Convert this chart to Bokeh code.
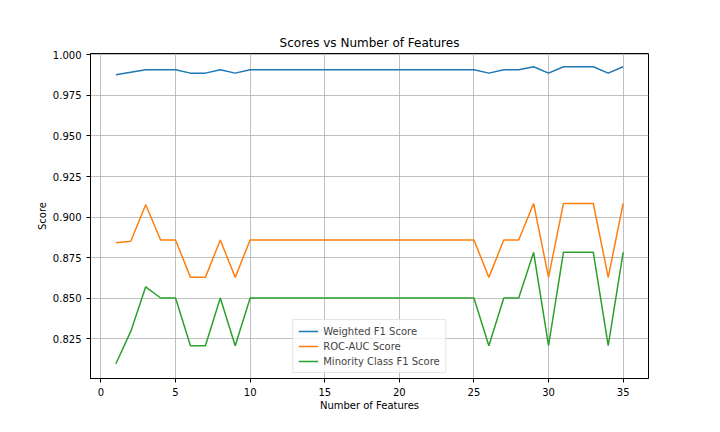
from bokeh.plotting import figure
from bokeh.models import FixedTicker, Range1d, Legend, LegendItem, NumeralTickFormatter
from bokeh.embed import file_html
from bokeh.resources import INLINE

n_features = list(range(1, 36))

weighted_f1 = [0.9877, 0.9893, 0.9908, 0.9908, 0.9908, 0.9887, 0.9887, 0.9908, 0.9887, 0.9908,
               0.9908, 0.9908, 0.9908, 0.9908, 0.9908, 0.9908, 0.9908, 0.9908, 0.9908, 0.9908,
               0.9908, 0.9908, 0.9908, 0.9908, 0.9908, 0.9887, 0.9908, 0.9908, 0.9926, 0.9887,
               0.9926, 0.9926, 0.9926, 0.9887, 0.9926]

roc_auc = [0.8842, 0.8851, 0.9076, 0.8859, 0.8859, 0.8629, 0.8629, 0.8859, 0.8629, 0.8859,
           0.8859, 0.8859, 0.8859, 0.8859, 0.8859, 0.8859, 0.8859, 0.8859, 0.8859, 0.8859,
           0.8859, 0.8859, 0.8859, 0.8859, 0.8859, 0.8629, 0.8859, 0.8859, 0.9084, 0.8629,
           0.9084, 0.9084, 0.9084, 0.8629, 0.9084]

minority_f1 = [0.8097, 0.8296, 0.8571, 0.8502, 0.8502, 0.8208, 0.8208, 0.8502, 0.8208, 0.8502,
               0.8502, 0.8502, 0.8502, 0.8502, 0.8502, 0.8502, 0.8502, 0.8502, 0.8502, 0.8502,
               0.8502, 0.8502, 0.8502, 0.8502, 0.8502, 0.8208, 0.8502, 0.8502, 0.8783, 0.8208,
               0.8783, 0.8783, 0.8783, 0.8208, 0.8783]

series_names = ["Weighted F1 Score", "ROC-AUC Score", "Minority Class F1 Score"]
series_colors = ["#1f77b4", "#ff7f0e", "#2ca02c"]

x_ticks = [0, 5, 10, 15, 20, 25, 30, 35]
y_ticks = [0.825, 0.85, 0.875, 0.9, 0.925, 0.95, 0.975, 1.0]

FONT = "DejaVu Sans"

p = figure(frame_width=558, frame_height=325, output_backend="svg", toolbar_location=None,
           tools="", x_range=Range1d(-0.7, 36.7), y_range=Range1d(0.8006, 1.0008),
           min_border_left=90, min_border_right=64, min_border_top=53, min_border_bottom=46,
           background_fill_color="white", border_fill_color="white")

p.title.text = "Scores vs Number of Features"
p.title.align = "center"
p.title.text_font = FONT
p.title.text_font_size = "12px"
p.title.text_font_style = "normal"
p.title.text_color = "black"
p.title.standoff = 7

p.outline_line_color = "black"
p.outline_line_width = 1

for ax in (p.xaxis[0], p.yaxis[0]):
    ax.axis_line_color = "black"
    ax.major_tick_in = 0
    ax.major_tick_out = 4
    ax.major_tick_line_color = "black"
    ax.minor_tick_line_color = None
    ax.major_label_text_font = FONT
    ax.major_label_text_font_size = "10px"
    ax.major_label_text_color = "black"
    ax.axis_label_text_font = FONT
    ax.axis_label_text_font_size = "10px"
    ax.axis_label_text_font_style = "normal"
    ax.axis_label_text_color = "black"

p.xaxis.ticker = FixedTicker(ticks=x_ticks)
p.yaxis.ticker = FixedTicker(ticks=y_ticks)
p.yaxis.formatter = NumeralTickFormatter(format="0.000")
p.xaxis.axis_label = "Number of Features"
p.yaxis.axis_label = "Score"
p.xaxis.axis_label_standoff = 1
p.yaxis.axis_label_standoff = 2

p.grid.grid_line_color = "#b0b0b0"
p.grid.grid_line_width = 0.8

items = []
for name, ys, col in zip(series_names, [weighted_f1, roc_auc, minority_f1], series_colors):
    r = p.line(n_features, ys, line_color=col, line_width=1.5)
    items.append(LegendItem(label=name, renderers=[r]))

legend = Legend(items=items, location="bottom_center")
legend.label_text_font = FONT
legend.label_text_font_size = "10px"
legend.label_height = 12
legend.glyph_height = 12
legend.glyph_width = 20
legend.spacing = 3
legend.padding = 5
legend.margin = 5
legend.border_line_color = "#cccccc"
legend.border_line_width = 1
legend.background_fill_alpha = 0.8
p.add_layout(legend)

open("out.html", "w").write(file_html(p, INLINE))
